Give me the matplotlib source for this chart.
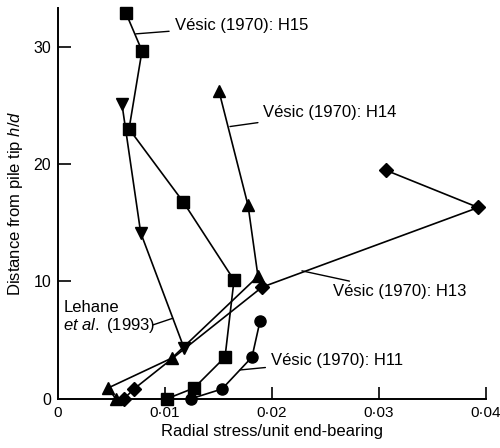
import matplotlib
matplotlib.use("Agg")
import matplotlib.pyplot as plt

plt.rcParams['font.family'] = ['Liberation Sans', 'DejaVu Sans']
plt.rcParams['mathtext.fontset'] = 'custom'
plt.rcParams['mathtext.rm'] = 'Liberation Sans'
plt.rcParams['mathtext.it'] = 'Liberation Sans:italic'

# Radial stress / unit end-bearing (x) vs distance from pile tip h/d (y)
h15_x = [0.00636, 0.00785, 0.00664, 0.01170, 0.01645, 0.01561, 0.01271, 0.01019]
h15_y = [32.85, 29.65, 23.00, 16.78, 10.11, 3.55, 0.91, 0.0]

h14_x = [0.01505, 0.01776, 0.01869, 0.01065, 0.00467, 0.00540]
h14_y = [26.20, 16.48, 10.43, 3.47, 0.91, 0.0]

h13_x = [0.03063, 0.03928, 0.01907, 0.00710, 0.00617]
h13_y = [19.48, 16.30, 9.51, 0.83, 0.0]

h11_x = [0.01243, 0.01533, 0.01813, 0.01888]
h11_y = [0.0, 0.83, 3.55, 6.61]

lehane_x = [0.00598, 0.00773, 0.01178]
lehane_y = [25.10, 14.14, 4.32]

xticks = [0, 0.01, 0.02, 0.03, 0.04]
xtick_labels = ['0', '0·01', '0·02', '0·03', '0·04']
yticks = [0, 10, 20, 30]
ytick_labels = ['0', '10', '20', '30']

fig = plt.figure(figsize=(5.0, 4.48), dpi=100)
ax = fig.add_axes([0.116, 0.110, 0.856, 0.872])

line_kw = dict(color='black', lw=1.2, clip_on=False, zorder=3)
ax.plot(h15_x, h15_y, marker='s', ms=8, **line_kw)
ax.plot(h14_x, h14_y, marker='^', ms=8, **line_kw)
ax.plot(h13_x, h13_y, marker='D', ms=7, **line_kw)
ax.plot(h11_x, h11_y, marker='o', ms=8, **line_kw)
ax.plot(lehane_x, lehane_y, marker='v', ms=8, **line_kw)

ax.set_xlim(0, 0.04)
ax.set_ylim(0, 33.3)

for side in ('top', 'right'):
    ax.spines[side].set_visible(False)
for side in ('left', 'bottom'):
    ax.spines[side].set_linewidth(1.4)

ax.set_xticks(xticks)
ax.set_xticklabels(xtick_labels)
ax.set_yticks(yticks)
ax.set_yticklabels(ytick_labels)
ax.tick_params(axis='both', direction='in', length=9, width=1.2,
               labelsize=11.5, pad=5)
ax.tick_params(axis='x', labelsize=11)
ax.xaxis.get_major_ticks()[0].tick1line.set_visible(False)
ax.yaxis.get_major_ticks()[0].tick1line.set_visible(False)

ax.set_xlabel('Radial stress/unit end-bearing', fontsize=12, labelpad=3)
ax.set_ylabel('Distance from pile tip $\\it{h/d}$', fontsize=12, labelpad=6)

# Leader lines and labels (data coordinates)
def label(text, xy_line, xy_text):
    ax.annotate(text, xy=xy_line, xytext=xy_text, fontsize=12,
                va='center', ha='left',
                arrowprops=dict(arrowstyle='-', color='black', lw=1.0,
                                shrinkA=2, shrinkB=0))

label('Vésic (1970): H15', (0.00727, 31.1), (0.01090, 31.8))
label('Vésic (1970): H14', (0.01607, 23.2), (0.01920, 24.4))
label('Vésic (1970): H13', (0.02280, 10.90), (0.02570, 9.10))
label('Vésic (1970): H11', (0.01700, 2.45), (0.01990, 3.25))

ax.text(0.00050, 7.8, 'Lehane', fontsize=12, va='center', ha='left')
ax.text(0.00050, 6.25, '$\\it{et\\ al.}$ (1993)', fontsize=12,
        va='center', ha='left')
ax.plot([0.00890, 0.01070], [6.30, 6.85], color='black', lw=1.0)

fig.savefig('out.png', dpi=100)
